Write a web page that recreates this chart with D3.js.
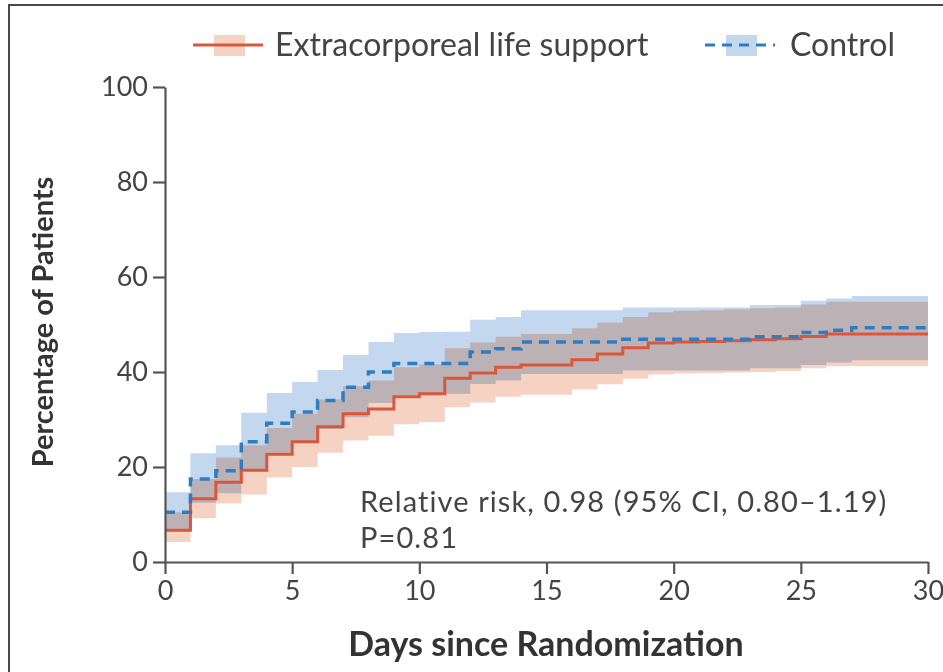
<!DOCTYPE html>
<html>
<head>
<meta charset="utf-8">
<script src="https://cdn.jsdelivr.net/npm/d3@7"></script>
<style>
  body { margin: 0; background: #fff; }
  svg { display: block; font-family: Lato, "Open Sans", sans-serif; }
  .band { mix-blend-mode: multiply; }
</style>
</head>
<body>
<svg id="chart" width="943" height="672"></svg>
<script>
// days at which each step begins (value holds until the next day)
var days = d3.range(0, 30);

// Extracorporeal life support
var eclsRate = [6.7, 13.3, 16.8, 19.3, 22.7, 25.3, 28.5, 31.2, 32.2, 34.8,
                35.4, 38.7, 39.8, 41.0, 41.5, 41.5, 42.6, 43.8, 45.1, 46.1,
                46.3, 46.4, 46.6, 46.8, 47.0, 47.5, 48.0, 48.0, 48.0, 48.0];
var eclsLow  = [4.2, 9.2, 12.3, 14.2, 17.8, 20.0, 23.0, 25.6, 26.6, 29.0,
                29.5, 32.6, 33.6, 34.8, 35.2, 35.2, 36.3, 37.4, 38.6, 39.5,
                39.7, 39.8, 39.9, 40.0, 40.2, 40.8, 41.2, 41.2, 41.2, 41.2];
var eclsHigh = [10.5, 17.5, 22.0, 24.6, 28.2, 31.2, 34.2, 37.0, 38.2, 41.0,
                41.6, 45.0, 46.2, 47.4, 48.0, 48.0, 49.2, 50.4, 51.6, 52.6,
                52.9, 53.0, 53.2, 53.4, 53.6, 54.2, 54.8, 54.8, 54.8, 54.8];

// Control
var ctrlRate = [10.5, 17.5, 19.2, 25.3, 29.2, 31.6, 34.0, 36.8, 40.0, 41.8,
                41.8, 41.8, 44.2, 44.9, 46.3, 46.3, 46.3, 46.3, 46.9, 46.9,
                46.9, 46.9, 46.9, 47.4, 47.4, 48.3, 48.8, 49.3, 49.3, 49.3];
var ctrlLow  = [6.5, 12.5, 14.5, 19.5, 23.0, 25.2, 28.0, 30.5, 33.5, 35.0,
                35.2, 35.4, 37.5, 38.2, 39.6, 39.6, 39.6, 39.6, 40.3, 40.3,
                40.3, 40.3, 40.3, 40.8, 40.8, 41.5, 42.0, 42.5, 42.5, 42.5];
var ctrlHigh = [14.7, 22.9, 24.6, 31.4, 35.6, 37.9, 40.4, 43.6, 46.3, 48.2,
                48.4, 48.5, 51.0, 51.6, 53.0, 53.0, 53.0, 53.0, 53.6, 53.6,
                53.6, 53.6, 53.6, 54.1, 54.1, 55.0, 55.5, 56.0, 56.0, 56.0];

var xTicks = [0, 5, 10, 15, 20, 25, 30];
var yTicks = [0, 20, 40, 60, 80, 100];

var seriesNames = ["Extracorporeal life support", "Control"];
var annotation = ["Relative risk, 0.98 (95% CI, 0.80\u20131.19)", "P=0.81"];

var red = "#d9573b", blue = "#2f7dc0";
var redBand = "#f6d2c3", blueBand = "#c3d8ee";

var svg = d3.select("#chart");

// frame of the figure (top and left edges only)
svg.append("path")
    .attr("d", "M9,672V5H943")
    .attr("fill", "none")
    .attr("stroke", "#4a4a4a")
    .attr("stroke-width", 2);

var x = d3.scaleLinear().domain([0, 30]).range([165, 928]);
var y = d3.scaleLinear().domain([0, 100]).range([562, 87]);

// build step rows, repeating the last value at day 30
function rows(rate, lo, hi) {
    var r = days.map(function(d, i) { return {d: d, v: rate[i], lo: lo[i], hi: hi[i]}; });
    var last = r[r.length - 1];
    r.push({d: 30, v: last.v, lo: last.lo, hi: last.hi});
    return r;
}
var ecls = rows(eclsRate, eclsLow, eclsHigh);
var ctrl = rows(ctrlRate, ctrlLow, ctrlHigh);

var area = d3.area()
    .curve(d3.curveStepAfter)
    .x(function(d) { return x(d.d); })
    .y0(function(d) { return y(d.lo); })
    .y1(function(d) { return y(d.hi); });

var line = d3.line()
    .curve(d3.curveStepAfter)
    .x(function(d) { return x(d.d); })
    .y(function(d) { return y(d.v); });

var plot = svg.append("g").style("isolation", "isolate");
plot.append("path").datum(ctrl).attr("class", "band").attr("d", area).attr("fill", blueBand);
plot.append("path").datum(ecls).attr("class", "band").attr("d", area).attr("fill", redBand);

svg.append("path").datum(ecls)
    .attr("d", line)
    .attr("fill", "none")
    .attr("stroke", red)
    .attr("stroke-width", 3);

svg.append("path").datum(ctrl)
    .attr("d", line)
    .attr("fill", "none")
    .attr("stroke", blue)
    .attr("stroke-width", 3.5)
    .attr("stroke-dasharray", "10,7");

// axes
var axisColor = "#555";
var gx = svg.append("g")
    .attr("transform", "translate(0," + y(0) + ")")
    .call(d3.axisBottom(x).tickValues(xTicks).tickSize(12).tickSizeOuter(0).tickPadding(7));
var gy = svg.append("g")
    .attr("transform", "translate(" + x(0) + ",0)")
    .call(d3.axisLeft(y).tickValues(yTicks).tickSize(12).tickSizeOuter(0).tickPadding(5));

[gx, gy].forEach(function(g) {
    g.select(".domain").attr("stroke", axisColor).attr("stroke-width", 2.2);
    g.selectAll(".tick line").attr("stroke", axisColor).attr("stroke-width", 2.2);
    g.selectAll(".tick text")
        .attr("fill", "#444")
        .style("font-size", "27px")
        .style("font-family", "Lato, sans-serif");
});

svg.append("text")
    .attr("x", 546).attr("y", 656)
    .attr("text-anchor", "middle")
    .attr("fill", "#333")
    .style("font-size", "34px")
    .style("font-weight", "bold")
    .text("Days since Randomization");

svg.append("text")
    .attr("transform", "translate(53,322) rotate(-90)")
    .attr("text-anchor", "middle")
    .attr("fill", "#333")
    .style("font-size", "29px")
    .style("font-weight", "bold")
    .text("Percentage of Patients");

// annotation
svg.selectAll(".note").data(annotation).enter()
    .append("text")
    .attr("class", "note")
    .attr("x", 360)
    .attr("y", function(d, i) { return 512 + i * 36; })
    .attr("fill", "#444")
    .style("font-size", "29px")
    .style("letter-spacing", "1.1px")
    .text(function(d) { return d; });

// legend
var legend = [
    {name: seriesNames[0], color: red, band: redBand, x0: 193, dash: null, tx: 275},
    {name: seriesNames[1], color: blue, band: blueBand, x0: 705, dash: "10,7", tx: 790}
];
var lg = svg.selectAll(".legend").data(legend).enter().append("g").attr("class", "legend");
lg.append("rect")
    .attr("x", function(d) { return d.x0 + 21; })
    .attr("y", 35)
    .attr("width", 31)
    .attr("height", 21)
    .attr("fill", function(d) { return d.band; });
lg.append("line")
    .attr("x1", function(d) { return d.x0; })
    .attr("x2", function(d) { return d.x0 + 70; })
    .attr("y1", 45).attr("y2", 45)
    .attr("stroke", function(d) { return d.color; })
    .attr("stroke-width", 3)
    .attr("stroke-dasharray", function(d) { return d.dash; });
lg.append("text")
    .attr("x", function(d) { return d.tx; })
    .attr("y", 56)
    .attr("fill", "#444")
    .style("font-size", "32px")
    .text(function(d) { return d.name; });
</script>
</body>
</html>
